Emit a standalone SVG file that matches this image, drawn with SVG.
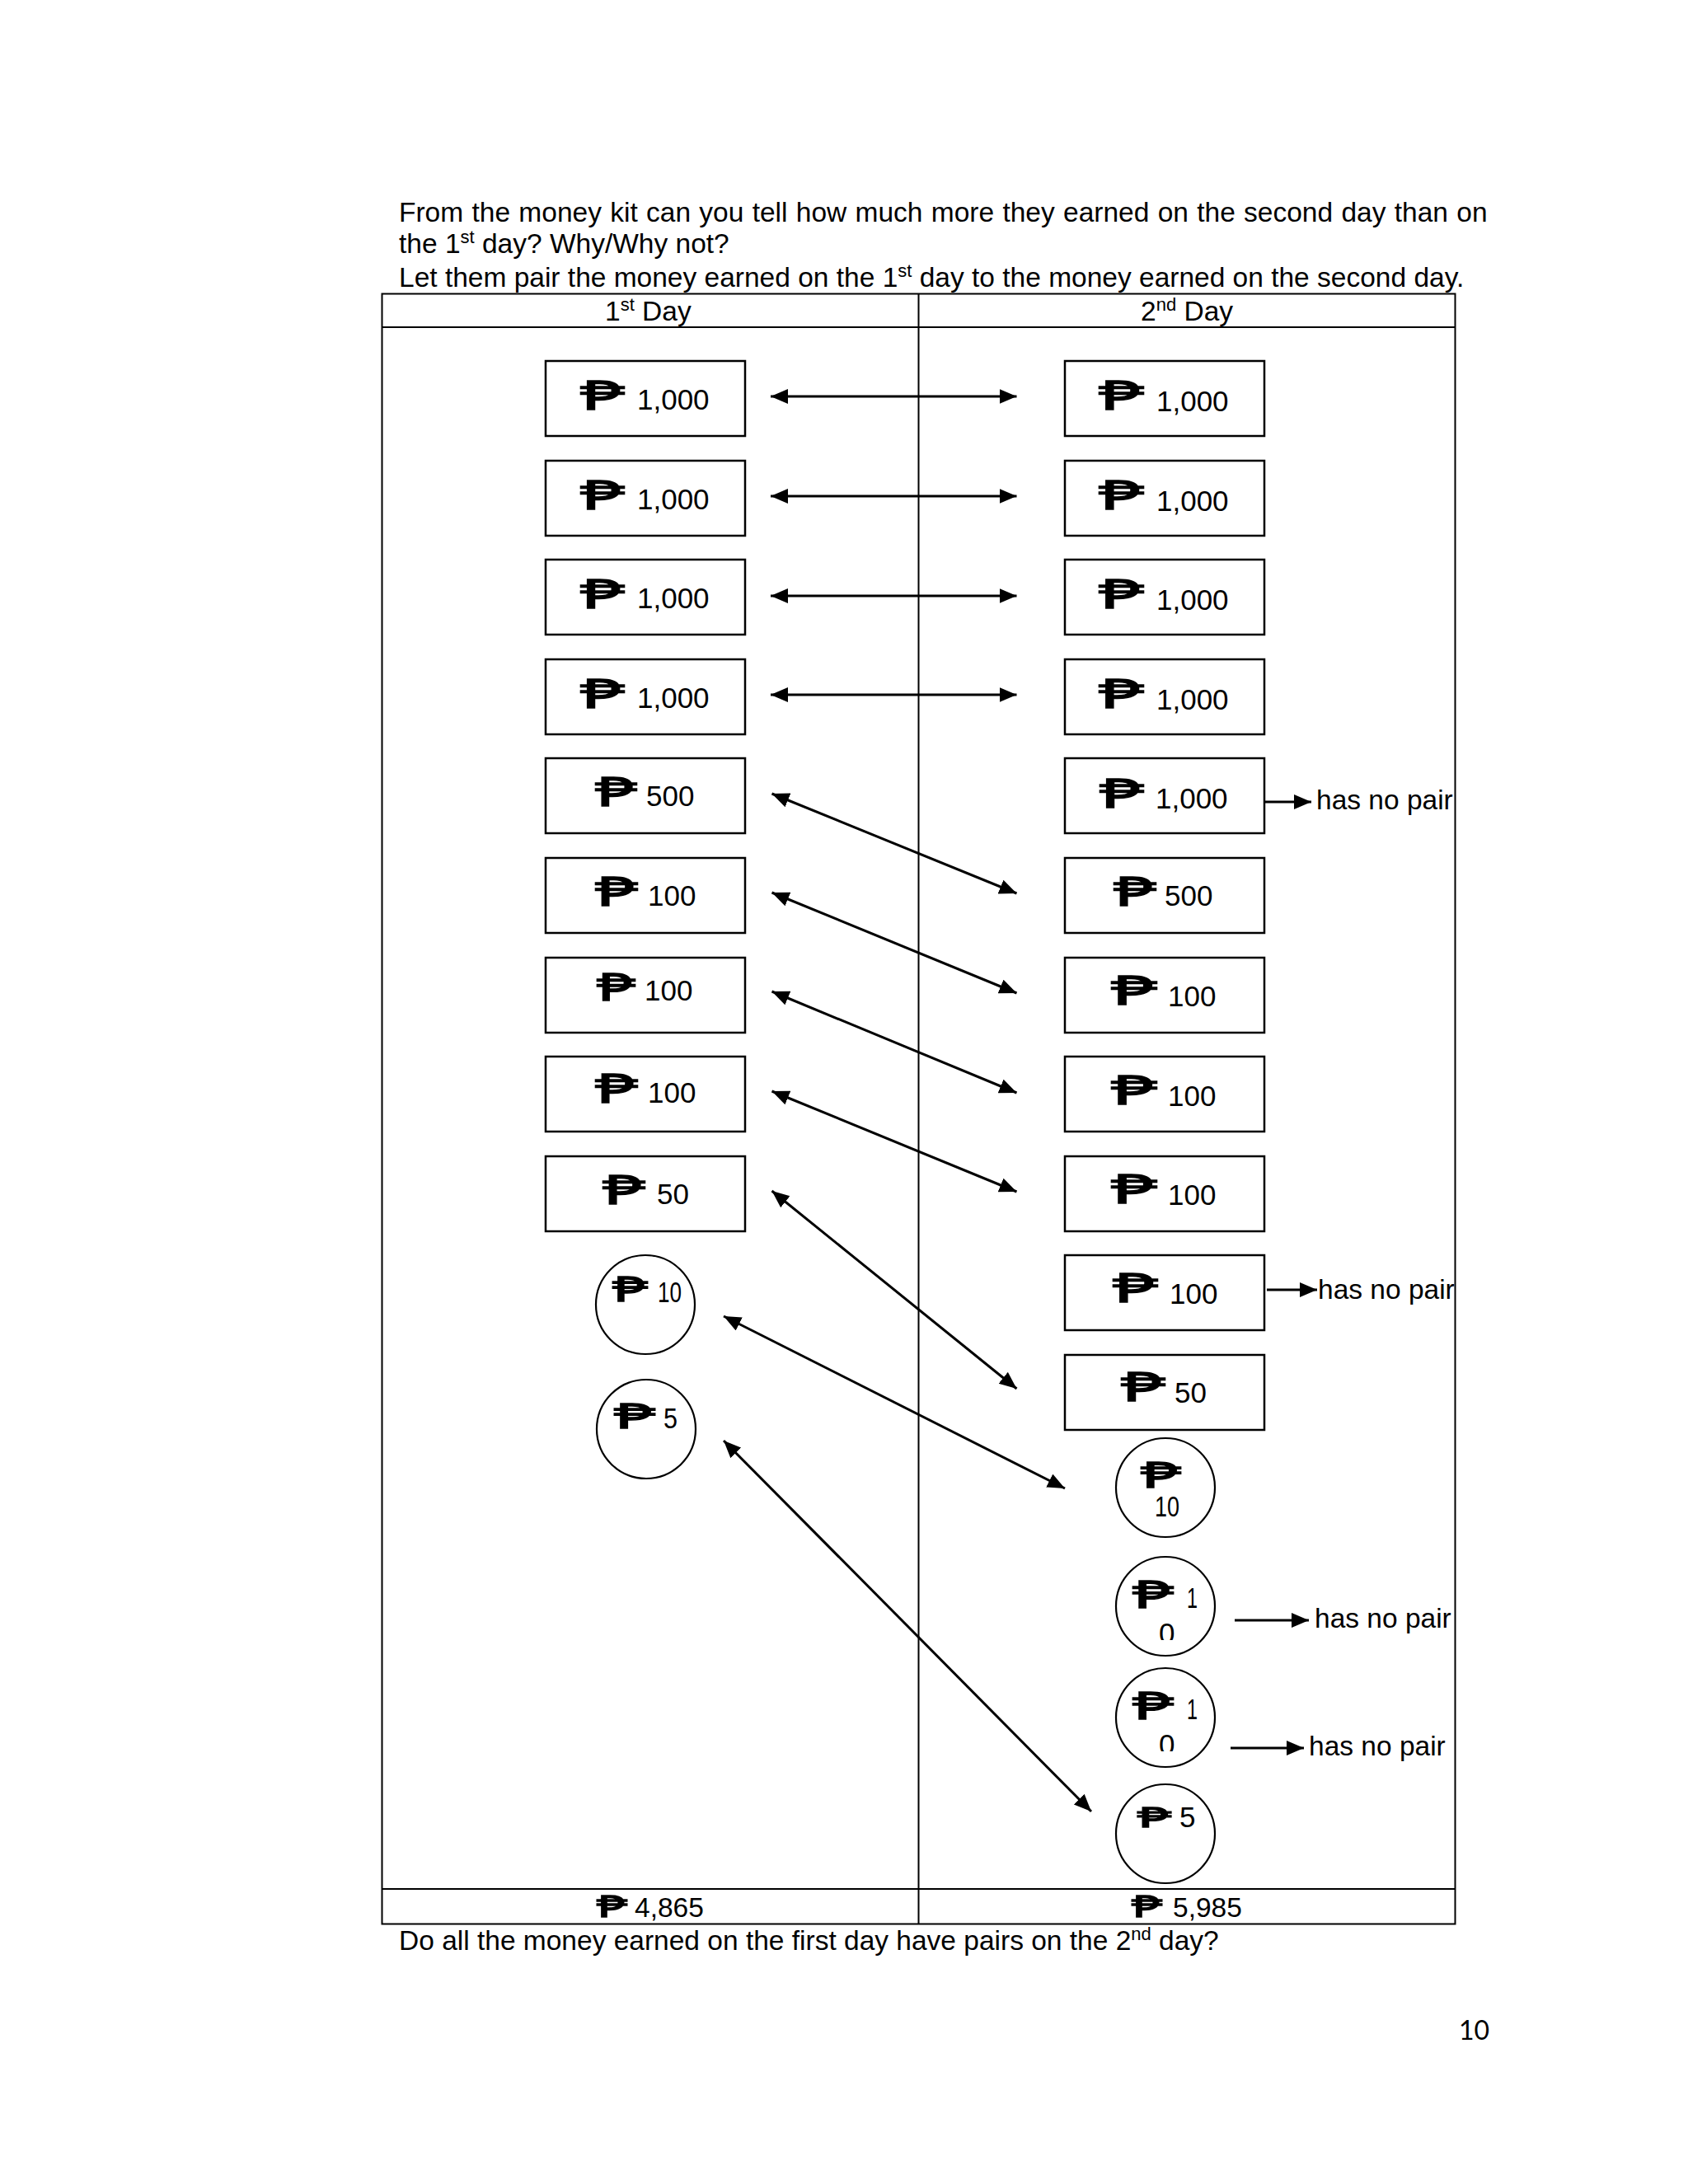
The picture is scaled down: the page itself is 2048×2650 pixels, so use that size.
<svg xmlns="http://www.w3.org/2000/svg" width="2048" height="2650" viewBox="0 0 2048 2650">
<style>
.t{font-family:"Liberation Sans",Arial,sans-serif;font-size:33.5px;fill:#000}
.amt{font-family:"Liberation Sans",Arial,sans-serif;font-size:35px;fill:#000}
.peso{font-family:"Noto Sans","DejaVu Sans",sans-serif;font-weight:normal;fill:#000;stroke:#000;stroke-width:1.3}
.box{fill:#fff;stroke:#000;stroke-width:2.5}
.coin{fill:#fff;stroke:#000;stroke-width:2.2}
.grid{fill:none;stroke:#000;stroke-width:2}
.arr{stroke:#000;stroke-width:3;fill:none}
</style>
<defs>
<marker id="ah" markerUnits="userSpaceOnUse" markerWidth="22" markerHeight="19" refX="21" refY="9" orient="auto-start-reverse" viewBox="0 0 22 19">
<path d="M0,0 L21,9 L0,18 Z" fill="#000"/>
</marker>
<clipPath id="c1"><rect x="1390" y="1950" width="50" height="40"/></clipPath>
<clipPath id="c2"><rect x="1390" y="2090" width="50" height="35"/></clipPath>
</defs>
<rect width="2048" height="2650" fill="#fff"/>

<g id="intro">
<text class="t" x="484" y="269" word-spacing="1">From the money kit can you tell how much more they earned on the second day than on</text>
<text class="t" x="484" y="307">the 1<tspan font-size="22" dy="-12">st</tspan><tspan dy="12"> day? Why/Why not?</tspan></text>
<text class="t" x="484" y="348">Let them pair the money earned on the 1<tspan font-size="22" dy="-12">st</tspan><tspan dy="12"> day to the money earned on the second day.</tspan></text>
</g>

<g id="table">
<rect class="grid" x="463.5" y="356.5" width="1302" height="1978"/>
<line class="grid" x1="463.5" y1="397" x2="1765.5" y2="397"/>
<line class="grid" x1="463.5" y1="2292" x2="1765.5" y2="2292"/>
<line class="grid" x1="1114.5" y1="356.5" x2="1114.5" y2="2334.5"/>
<text class="t" x="734" y="389">1<tspan font-size="22" dy="-12">st</tspan><tspan dy="12"> Day</tspan></text>
<text class="t" x="1384" y="389">2<tspan font-size="22" dy="-12">nd</tspan><tspan dy="12"> Day</tspan></text>
</g>

<g id="left-1000-a"><rect class="box" x="662" y="438" width="242" height="91"/><text class="peso" x="704" y="497" font-size="49" textLength="54" lengthAdjust="spacingAndGlyphs">₱</text><text class="amt" x="773" y="497">1,000</text></g>
<g id="left-1000-b"><rect class="box" x="662" y="559" width="242" height="91"/><text class="peso" x="704" y="618" font-size="49" textLength="54" lengthAdjust="spacingAndGlyphs">₱</text><text class="amt" x="773" y="618">1,000</text></g>
<g id="left-1000-c"><rect class="box" x="662" y="679" width="242" height="91"/><text class="peso" x="704" y="738" font-size="49" textLength="54" lengthAdjust="spacingAndGlyphs">₱</text><text class="amt" x="773" y="738">1,000</text></g>
<g id="left-1000-d"><rect class="box" x="662" y="800" width="242" height="91"/><text class="peso" x="704" y="859" font-size="49" textLength="54" lengthAdjust="spacingAndGlyphs">₱</text><text class="amt" x="773" y="859">1,000</text></g>
<g id="left-500"><rect class="box" x="662" y="920" width="242" height="91"/><text class="peso" x="722" y="978" font-size="49" textLength="51" lengthAdjust="spacingAndGlyphs">₱</text><text class="amt" x="784" y="978">500</text></g>
<g id="left-100-a"><rect class="box" x="662" y="1041" width="242" height="91"/><text class="peso" x="722" y="1099" font-size="49" textLength="52" lengthAdjust="spacingAndGlyphs">₱</text><text class="amt" x="786" y="1099">100</text></g>
<g id="left-100-b"><rect class="box" x="662" y="1162" width="242" height="91"/><text class="peso" x="724" y="1214" font-size="45" textLength="47" lengthAdjust="spacingAndGlyphs">₱</text><text class="amt" x="782" y="1214">100</text></g>
<g id="left-100-c"><rect class="box" x="662" y="1282" width="242" height="91"/><text class="peso" x="722" y="1338" font-size="49" textLength="52" lengthAdjust="spacingAndGlyphs">₱</text><text class="amt" x="786" y="1338">100</text></g>
<g id="left-50"><rect class="box" x="662" y="1403" width="242" height="91"/><text class="peso" x="731" y="1461" font-size="49" textLength="52" lengthAdjust="spacingAndGlyphs">₱</text><text class="amt" x="797" y="1461">50</text></g>
<g id="left-coin-10"><circle class="coin" cx="783" cy="1583" r="60"/><text class="peso" x="743" y="1579" font-size="41" textLength="43" lengthAdjust="spacingAndGlyphs">₱</text><text class="amt" x="798" y="1580" font-size="33" textLength="29" lengthAdjust="spacingAndGlyphs">10</text></g>
<g id="left-coin-5"><circle class="coin" cx="784" cy="1734" r="60"/><text class="peso" x="745" y="1733" font-size="42" textLength="50" lengthAdjust="spacingAndGlyphs">₱</text><text class="amt" x="805" y="1733" font-size="30" textLength="17" lengthAdjust="spacingAndGlyphs">5</text></g>

<g id="right-1000-a"><rect class="box" x="1292" y="438" width="242" height="91"/><text class="peso" x="1333" y="497" font-size="49" textLength="55" lengthAdjust="spacingAndGlyphs">₱</text><text class="amt" x="1403" y="499">1,000</text></g>
<g id="right-1000-b"><rect class="box" x="1292" y="559" width="242" height="91"/><text class="peso" x="1333" y="618" font-size="49" textLength="55" lengthAdjust="spacingAndGlyphs">₱</text><text class="amt" x="1403" y="620">1,000</text></g>
<g id="right-1000-c"><rect class="box" x="1292" y="679" width="242" height="91"/><text class="peso" x="1333" y="738" font-size="49" textLength="55" lengthAdjust="spacingAndGlyphs">₱</text><text class="amt" x="1403" y="740">1,000</text></g>
<g id="right-1000-d"><rect class="box" x="1292" y="800" width="242" height="91"/><text class="peso" x="1333" y="859" font-size="49" textLength="55" lengthAdjust="spacingAndGlyphs">₱</text><text class="amt" x="1403" y="861">1,000</text></g>
<g id="right-1000-e"><rect class="box" x="1292" y="920" width="242" height="91"/><text class="peso" x="1334" y="980" font-size="49" textLength="54" lengthAdjust="spacingAndGlyphs">₱</text><text class="amt" x="1402" y="981">1,000</text></g>
<g id="right-500"><rect class="box" x="1292" y="1041" width="242" height="91"/><text class="peso" x="1351" y="1099" font-size="49" textLength="52" lengthAdjust="spacingAndGlyphs">₱</text><text class="amt" x="1413" y="1099">500</text></g>
<g id="right-100-a"><rect class="box" x="1292" y="1162" width="242" height="91"/><text class="peso" x="1348" y="1219" font-size="49" textLength="56" lengthAdjust="spacingAndGlyphs">₱</text><text class="amt" x="1417" y="1221">100</text></g>
<g id="right-100-b"><rect class="box" x="1292" y="1282" width="242" height="91"/><text class="peso" x="1348" y="1340" font-size="49" textLength="56" lengthAdjust="spacingAndGlyphs">₱</text><text class="amt" x="1417" y="1342">100</text></g>
<g id="right-100-c"><rect class="box" x="1292" y="1403" width="242" height="91"/><text class="peso" x="1348" y="1460" font-size="49" textLength="56" lengthAdjust="spacingAndGlyphs">₱</text><text class="amt" x="1417" y="1462">100</text></g>
<g id="right-100-d"><rect class="box" x="1292" y="1523" width="242" height="91"/><text class="peso" x="1350" y="1580" font-size="49" textLength="55" lengthAdjust="spacingAndGlyphs">₱</text><text class="amt" x="1419" y="1582">100</text></g>
<g id="right-50"><rect class="box" x="1292" y="1644" width="242" height="91"/><text class="peso" x="1360" y="1700" font-size="49" textLength="54" lengthAdjust="spacingAndGlyphs">₱</text><text class="amt" x="1425" y="1702">50</text></g>
<g id="right-coin-10"><circle class="coin" cx="1414" cy="1805" r="60"/><text class="peso" x="1384" y="1805" font-size="44" textLength="49" lengthAdjust="spacingAndGlyphs">₱</text><text class="amt" x="1401" y="1840" font-size="33" textLength="30" lengthAdjust="spacingAndGlyphs">10</text></g>
<g id="right-coin-10-b"><circle class="coin" cx="1414" cy="1949" r="60"/><text class="peso" x="1374" y="1951" font-size="46" textLength="50" lengthAdjust="spacingAndGlyphs">₱</text><text class="amt" x="1440" y="1951" font-size="29" textLength="13" lengthAdjust="spacingAndGlyphs">1</text><text class="amt" x="1406" y="1994" font-size="33" clip-path="url(#c1)">0</text></g>
<g id="right-coin-10-c"><circle class="coin" cx="1414" cy="2084" r="60"/><text class="peso" x="1374" y="2086" font-size="46" textLength="50" lengthAdjust="spacingAndGlyphs">₱</text><text class="amt" x="1440" y="2086" font-size="29" textLength="13" lengthAdjust="spacingAndGlyphs">1</text><text class="amt" x="1406" y="2129" font-size="33" clip-path="url(#c2)">0</text></g>
<g id="right-coin-5"><circle class="coin" cx="1414" cy="2225" r="60"/><text class="peso" x="1380" y="2217" font-size="33" textLength="41" lengthAdjust="spacingAndGlyphs">₱</text><text class="amt" x="1431" y="2217" font-size="33.5">5</text></g>

<g id="totals">
<text class="peso" x="724" y="2326" font-size="36" textLength="37" lengthAdjust="spacingAndGlyphs">₱</text><text class="t" x="770" y="2326">4,865</text>
<text class="peso" x="1373" y="2326" font-size="36" textLength="37" lengthAdjust="spacingAndGlyphs">₱</text><text class="t" x="1423" y="2326">5,985</text>
</g>

<g id="connectors">
<line class="arr" x1="935" y1="481" x2="1233.5" y2="481" marker-start="url(#ah)" marker-end="url(#ah)"/>
<line class="arr" x1="935" y1="602" x2="1233.5" y2="602" marker-start="url(#ah)" marker-end="url(#ah)"/>
<line class="arr" x1="935" y1="723" x2="1233.5" y2="723" marker-start="url(#ah)" marker-end="url(#ah)"/>
<line class="arr" x1="935" y1="843" x2="1233.5" y2="843" marker-start="url(#ah)" marker-end="url(#ah)"/>
<line class="arr" x1="936.5" y1="963" x2="1233.5" y2="1084" marker-start="url(#ah)" marker-end="url(#ah)"/>
<line class="arr" x1="936.5" y1="1083" x2="1233.5" y2="1205" marker-start="url(#ah)" marker-end="url(#ah)"/>
<line class="arr" x1="936.5" y1="1203" x2="1233.5" y2="1326" marker-start="url(#ah)" marker-end="url(#ah)"/>
<line class="arr" x1="936.5" y1="1324" x2="1233.5" y2="1446" marker-start="url(#ah)" marker-end="url(#ah)"/>
<line class="arr" x1="936.5" y1="1445" x2="1233.5" y2="1685" marker-start="url(#ah)" marker-end="url(#ah)"/>
<line class="arr" x1="878" y1="1597" x2="1292" y2="1806" marker-start="url(#ah)" marker-end="url(#ah)"/>
<line class="arr" x1="878" y1="1748" x2="1324" y2="2198" marker-start="url(#ah)" marker-end="url(#ah)"/>
<line class="arr" x1="1534" y1="973" x2="1591" y2="973" marker-end="url(#ah)"/>
<line class="arr" x1="1537" y1="1565" x2="1598" y2="1565" marker-end="url(#ah)"/>
<line class="arr" x1="1498" y1="1966" x2="1588" y2="1966" marker-end="url(#ah)"/>
<line class="arr" x1="1493" y1="2121" x2="1582" y2="2121" marker-end="url(#ah)"/>
</g>

<g id="labels">
<text class="t" x="1597" y="982">has no pair</text>
<text class="t" x="1599" y="1576">has no pair</text>
<text class="t" x="1595" y="1975">has no pair</text>
<text class="t" x="1588" y="2130">has no pair</text>
</g>

<g id="footer">
<text class="t" x="484" y="2366">Do all the money earned on the first day have pairs on the 2<tspan font-size="22" dy="-12">nd</tspan><tspan dy="12"> day?</tspan></text>
<text x="1807" y="2475" text-anchor="end" font-family="Lato, 'Open Sans', sans-serif" font-size="32" fill="#000">10</text>
</g>
</svg>
